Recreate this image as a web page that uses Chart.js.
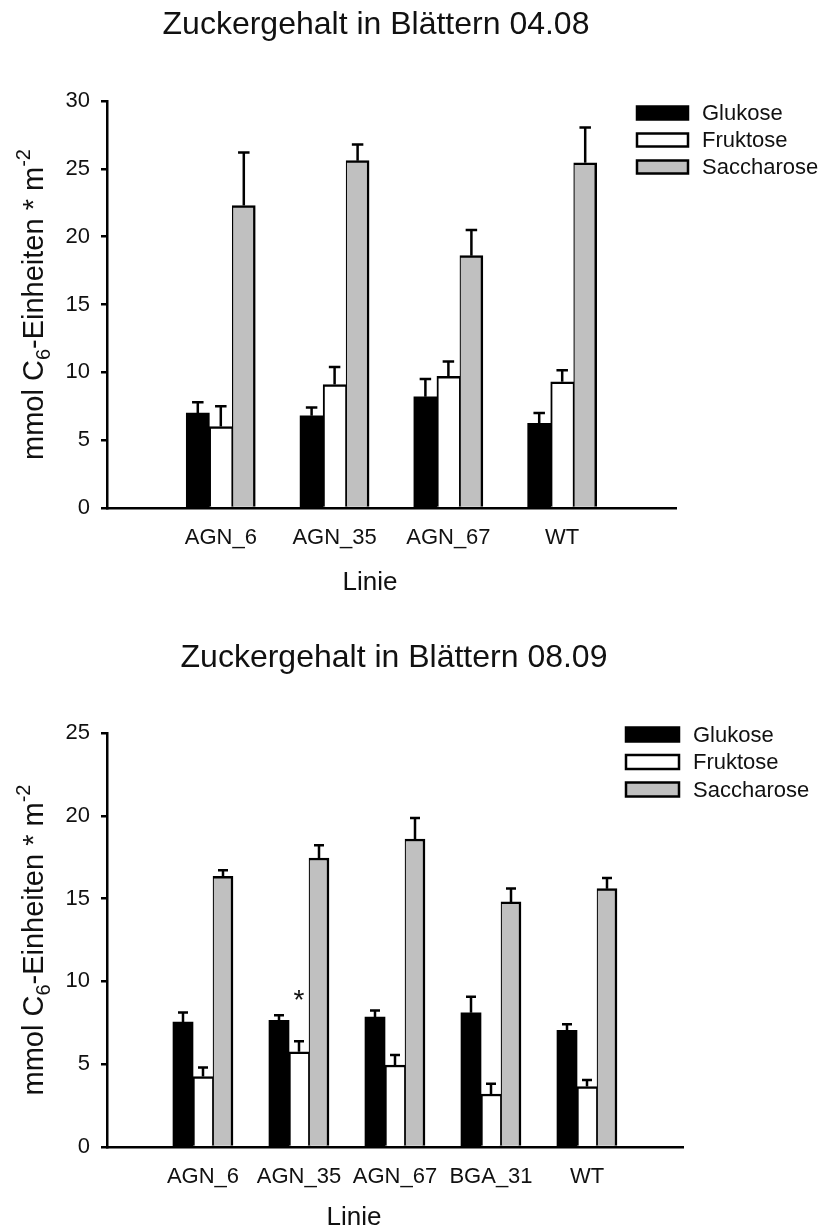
<!DOCTYPE html>
<html lang="de">
<head>
<meta charset="utf-8">
<title>Zuckergehalt in Blättern</title>
<script src="https://cdn.jsdelivr.net/npm/chart.js@4.4.1/dist/chart.umd.min.js"></script>
<style>
  html, body { margin: 0; padding: 0; background: #fff; }
  .panel { position: relative; width: 820px; }
  #panel1 { height: 615px; }
  #panel2 { height: 616px; }
</style>
</head>
<body>
<div class="panel" id="panel1"><canvas id="chartAug"></canvas></div>
<div class="panel" id="panel2"><canvas id="chartSep"></canvas></div>
<script>
// Messung 04.08 (Mittelwert und Standardfehler)
const linienAug = ['AGN_6', 'AGN_35', 'AGN_67', 'WT'];
const glukoseAug = [7.0, 6.8, 8.2, 6.25];
const glukoseAugSE = [0.8, 0.6, 1.3, 0.75];
const fruktoseAug = [6.0, 9.1, 9.7, 9.3];
const fruktoseAugSE = [1.5, 1.3, 1.1, 0.85];
const saccharoseAug = [22.3, 25.6, 18.6, 25.45];
const saccharoseAugSE = [3.9, 1.2, 1.9, 2.6];
const yTicksAug = [0, 5, 10, 15, 20, 25, 30];

// Messung 08.09
const linienSep = ['AGN_6', 'AGN_35', 'AGN_67', 'BGA_31', 'WT'];
const glukoseSep = [7.55, 7.65, 7.85, 8.1, 7.05];
const glukoseSepSE = [0.57, 0.3, 0.4, 0.97, 0.36];
const fruktoseSep = [4.25, 5.75, 4.95, 3.2, 3.65];
const fruktoseSepSE = [0.55, 0.64, 0.6, 0.62, 0.4];
const saccharoseSep = [16.35, 17.45, 18.6, 14.8, 15.6];
const saccharoseSepSE = [0.36, 0.77, 1.27, 0.81, 0.64];
const yTicksSep = [0, 5, 10, 15, 20, 25];

// signifikante Unterschiede: [Zucker, Linie]
const sterneSep = [['Fruktose', 'AGN_35']];

const FONT = '"Liberation Sans", Arial, Helvetica, sans-serif';
const INK = '#111';

// leere Kategorie links und rechts, damit die Gruppen vom Rand abrücken
function pad(values) {
    return [null, ...values, null];
}

function makeDatasets(gl, glSE, fr, frSE, sa, saSE) {
    return [
        {
            label: 'Glukose', data: pad(gl), errors: pad(glSE),
            backgroundColor: '#000000', borderColor: '#000000', borderWidth: 0,
        },
        {
            label: 'Fruktose', data: pad(fr), errors: pad(frSE),
            backgroundColor: '#ffffff', borderColor: '#000000',
            borderWidth: { top: 2.5, left: 2, right: 1.2, bottom: 0 },
        },
        {
            label: 'Saccharose', data: pad(sa), errors: pad(saSE),
            backgroundColor: '#c0c0c0', borderColor: '#000000',
            borderWidth: { top: 2.5, left: 1.2, right: 2.5, bottom: 0 },
        },
    ];
}

/**
 * Fehlerbalken (nur nach oben, mit Querstrich)
 */
const errorBars = {
    id: 'errorBars',
    afterDatasetsDraw(chart, args, opts) {
        const { ctx } = chart;
        const y = chart.scales.y;
        ctx.save();
        ctx.strokeStyle = '#000';
        ctx.lineWidth = opts.lineWidth;
        chart.data.datasets.forEach((ds, i) => {
            chart.getDatasetMeta(i).data.forEach((bar, j) => {
                const v = ds.data[j];
                const e = ds.errors[j];
                if (v == null || e == null) return;
                const base = y.getPixelForValue(v);
                const top = y.getPixelForValue(v + e);
                ctx.beginPath();
                ctx.moveTo(bar.x, base);
                ctx.lineTo(bar.x, top);
                ctx.moveTo(bar.x - opts.cap / 2, top);
                ctx.lineTo(bar.x + opts.cap / 2, top);
                ctx.stroke();
            });
        });
        ctx.restore();
    },
};

/**
 * Sternchen über signifikanten Balken
 */
const sterne = {
    id: 'sterne',
    afterDatasetsDraw(chart, args, opts) {
        if (!opts.items) return;
        const { ctx } = chart;
        const y = chart.scales.y;
        ctx.save();
        ctx.fillStyle = INK;
        ctx.font = `${opts.size}px ${FONT}`;
        ctx.textAlign = 'center';
        ctx.textBaseline = 'alphabetic';
        opts.items.forEach(([zucker, linie]) => {
            const i = chart.data.datasets.findIndex(d => d.label === zucker);
            const j = chart.data.labels.indexOf(linie);
            if (i < 0 || j < 0) return;
            const ds = chart.data.datasets[i];
            const bar = chart.getDatasetMeta(i).data[j];
            const top = y.getPixelForValue(ds.data[j] + ds.errors[j]);
            ctx.fillText('*', bar.x, top - opts.gap);
        });
        ctx.restore();
    },
};

// y-Achsentitel mit Index und Exponent, gedreht
function drawYTitle(ctx, x, cy) {
    const parts = [
        { t: 'mmol C', size: 29, dy: 0 },
        { t: '6', size: 20, dy: 7 },
        { t: '-Einheiten * m', size: 29, dy: 0 },
        { t: '-2', size: 20, dy: -13 },
    ];
    let total = 0;
    parts.forEach(p => {
        ctx.font = `${p.size}px ${FONT}`;
        p.w = ctx.measureText(p.t).width;
        total += p.w;
    });
    ctx.save();
    ctx.translate(x, cy);
    ctx.rotate(-Math.PI / 2);
    ctx.textAlign = 'left';
    ctx.textBaseline = 'alphabetic';
    let pos = -total / 2;
    parts.forEach(p => {
        ctx.font = `${p.size}px ${FONT}`;
        ctx.fillText(p.t, pos, p.dy);
        pos += p.w;
    });
    ctx.restore();
}

/**
 * Titel, Achsentitel und Legende
 */
const beschriftung = {
    id: 'beschriftung',
    afterDraw(chart, args, o) {
        const { ctx, chartArea } = chart;
        ctx.save();
        ctx.fillStyle = INK;
        ctx.textAlign = 'center';
        ctx.textBaseline = 'alphabetic';

        ctx.font = `32px ${FONT}`;
        ctx.fillText(o.title, o.titleX, o.titleY);

        ctx.font = `26px ${FONT}`;
        ctx.fillText('Linie', o.xTitleX, o.xTitleY);

        drawYTitle(ctx, 43, (chartArea.top + chartArea.bottom) / 2);

        // Legende
        ctx.textAlign = 'left';
        ctx.textBaseline = 'middle';
        ctx.font = `22px ${FONT}`;
        ctx.lineWidth = 2.5;
        ctx.strokeStyle = '#000';
        chart.data.datasets.forEach((ds, i) => {
            const cy = o.legendY + i * o.legendStep;
            ctx.fillStyle = ds.backgroundColor;
            ctx.fillRect(o.legendX, cy - o.boxH / 2, o.boxW, o.boxH);
            ctx.strokeRect(o.legendX, cy - o.boxH / 2, o.boxW, o.boxH);
            ctx.fillStyle = INK;
            ctx.fillText(ds.label, o.legendX + o.boxW + 14, cy + 1);
        });
        ctx.restore();
    },
};

function makeChart(canvasId, linien, datasets, yTicks, barWidth, layout, texts, stars) {
    return new Chart(document.getElementById(canvasId), {
        type: 'bar',
        data: {
            labels: pad(linien).map(l => l || ''),
            datasets: datasets.map(d => ({ ...d, barThickness: barWidth, borderSkipped: 'start' })),
        },
        options: {
            responsive: true,
            maintainAspectRatio: false,
            animation: false,
            layout: { padding: layout },
            scales: {
                x: {
                    type: 'category',
                    offset: false,
                    grid: { display: true, drawOnChartArea: false, drawTicks: false },
                    border: { color: '#000', width: 2.5 },
                    ticks: {
                        color: INK, font: { family: FONT, size: 22 },
                        padding: 17, maxRotation: 0, autoSkip: false,
                    },
                    afterFit: s => { s.height = 60; },
                },
                y: {
                    min: yTicks[0],
                    max: yTicks[yTicks.length - 1],
                    afterBuildTicks: s => { s.ticks = yTicks.map(v => ({ value: v })); },
                    ticks: { color: INK, font: { family: FONT, size: 22 }, padding: 11 },
                    grid: { drawOnChartArea: false, drawTicks: true, tickLength: 6, color: '#000', lineWidth: 2.5 },
                    border: { color: '#000', width: 2.5 },
                    afterFit: s => { s.width = 60; },
                },
            },
            plugins: {
                legend: { display: false },
                title: { display: false },
                tooltip: { enabled: false },
                errorBars: { lineWidth: 2.5, cap: barWidth / 2 },
                sterne: { items: stars, size: 28, gap: 32 },
                beschriftung: texts,
            },
        },
        plugins: [errorBars, sterne, beschriftung],
    });
}

makeChart('chartAug', linienAug,
    makeDatasets(glukoseAug, glukoseAugSE, fruktoseAug, fruktoseAugSE, saccharoseAug, saccharoseAugSE),
    yTicksAug, 23,
    { left: 47, right: 144, top: 101, bottom: 47 },
    {
        title: 'Zuckergehalt in Blättern 04.08', titleX: 376, titleY: 34,
        xTitleX: 370, xTitleY: 590,
        legendX: 637, legendY: 113, legendStep: 27, boxW: 51, boxH: 13,
    },
    null);

makeChart('chartSep', linienSep,
    makeDatasets(glukoseSep, glukoseSepSE, fruktoseSep, fruktoseSepSE, saccharoseSep, saccharoseSepSE),
    yTicksSep, 20,
    { left: 47, right: 137, top: 118, bottom: 24 },
    {
        title: 'Zuckergehalt in Blättern 08.09', titleX: 394, titleY: 52,
        xTitleX: 354, xTitleY: 610,
        legendX: 626, legendY: 119.5, legendStep: 27.5, boxW: 53, boxH: 14,
    },
    sterneSep);
</script>
</body>
</html>
